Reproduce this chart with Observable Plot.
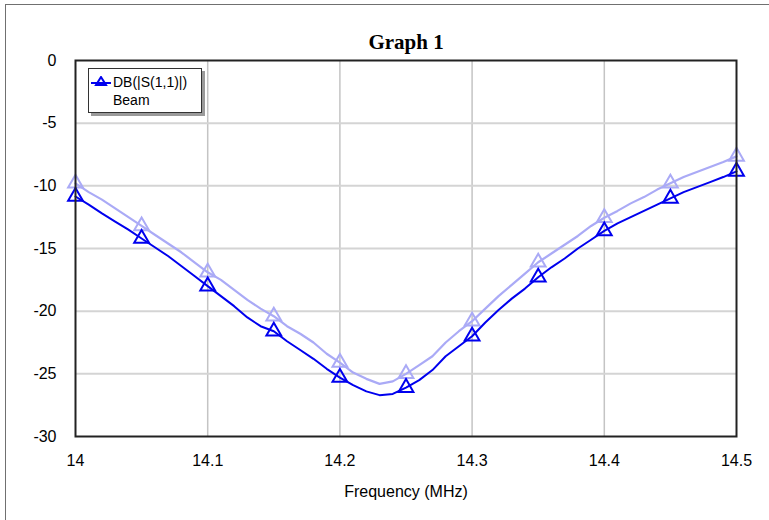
<!DOCTYPE html>
<html><head><meta charset="utf-8">
<script src="https://cdn.jsdelivr.net/npm/d3@7"></script>
<script src="https://cdn.jsdelivr.net/npm/@observablehq/plot@0.6"></script>
<style>
body{margin:0;width:769px;height:520px;overflow:hidden;background:#fff;position:relative;font-family:"Liberation Sans",Arial,sans-serif}
#outer{position:absolute;left:5px;top:4px;width:900px;height:700px;border:1px solid #707070}
#chart{position:absolute;left:0;top:0}
#legend{position:absolute;left:88px;top:68px;width:112px;height:43px;background:#fff;border:1px solid #333;box-shadow:3px 3px 0 #9a9a9a;font-size:14px;line-height:18px;color:#000}
#legend .row{position:absolute;left:24px;white-space:nowrap}
#legend svg{position:absolute;left:2px;top:7px}
</style></head><body>
<div id="outer"></div>
<div id="chart"></div>
<div id="legend"></div>
<script>
const title = "Graph 1";
const xLabel = "Frequency (MHz)";
const seriesName = "DB(|S(1,1)|)";
const docName = "Beam";
const xTicks = [14, 14.1, 14.2, 14.3, 14.4, 14.5];
const yTicks = [0, -5, -10, -15, -20, -25, -30];
const freq = [14.00,14.01,14.02,14.03,14.04,14.05,14.06,14.07,14.08,14.09,
  14.10,14.11,14.12,14.13,14.14,14.15,14.16,14.17,14.18,14.19,
  14.20,14.21,14.22,14.23,14.24,14.25,14.26,14.27,14.28,14.29,
  14.30,14.31,14.32,14.33,14.34,14.35,14.36,14.37,14.38,14.39,
  14.40,14.41,14.42,14.43,14.44,14.45,14.46,14.47,14.48,14.49,14.50];
const markerFreq = [14.00,14.05,14.10,14.15,14.20,14.25,14.30,14.35,14.40,14.45,14.50];
const s11 = [-10.85,-11.5,-12.2,-12.85,-13.5,-14.2,-14.9,-15.6,-16.4,-17.2,
  -18.0,-18.8,-19.6,-20.5,-21.2,-21.6,-22.4,-23.1,-23.8,-24.6,
  -25.3,-25.9,-26.4,-26.7,-26.6,-26.1,-25.5,-24.7,-23.6,-22.8,
  -22.0,-20.9,-19.9,-19.0,-18.2,-17.3,-16.5,-15.8,-15.0,-14.3,
  -13.6,-13.0,-12.5,-12.0,-11.5,-11.0,-10.5,-10.1,-9.7,-9.3,-8.85];
const s11Shadow = [-9.8,-10.5,-11.1,-11.8,-12.5,-13.2,-13.9,-14.6,-15.3,-16.1,
  -16.9,-17.5,-18.3,-19.1,-19.8,-20.4,-21.2,-21.8,-22.5,-23.4,
  -24.1,-24.9,-25.4,-25.8,-25.6,-25.0,-24.3,-23.6,-22.5,-21.6,
  -20.8,-19.8,-18.8,-17.9,-17.0,-16.1,-15.4,-14.7,-14.0,-13.2,
  -12.55,-12.0,-11.4,-10.9,-10.3,-9.8,-9.3,-8.9,-8.5,-8.1,-7.65];

const dark = "#0000ee", light = "#aaaaf6";
const rows = freq.map((f, i) => ({f, main: s11[i], shadow: s11Shadow[i]}));
const isMarker = d => markerFreq.some(m => Math.abs(m - d.f) < 1e-9);
const markers = rows.filter(isMarker);

const plot = Plot.plot({
  width: 769, height: 520,
  marginLeft: 75, marginRight: 33, marginTop: 60, marginBottom: 84,
  style: {fontFamily: '"Liberation Sans", Arial, sans-serif', fontSize: "16px", color: "#000", background: "transparent"},
  x: {domain: [14, 14.5], ticks: xTicks, tickFormat: d => String(d), tickSize: 0, tickPadding: 18, label: null},
  y: {domain: [-30, 0], ticks: yTicks, tickFormat: d => String(d), tickSize: 0, tickPadding: 19, label: null},
  marks: [
    Plot.ruleX(xTicks.slice(1, -1), {stroke: "#c4c4c4", strokeWidth: 1.5}),
    Plot.ruleY(yTicks.slice(1, -1), {stroke: "#d4d4d4", strokeWidth: 2}),
    Plot.line(rows, {x: "f", y: "shadow", stroke: light, strokeWidth: 2.2}),
    Plot.dot(markers, {x: "f", y: "shadow", symbol: "triangle", r: 5.5, stroke: light, strokeWidth: 2, fill: "none"}),
    Plot.line(rows, {x: "f", y: "main", stroke: dark, strokeWidth: 2}),
    Plot.dot(markers, {x: "f", y: "main", symbol: "triangle", r: 5.5, stroke: dark, strokeWidth: 2, fill: "none"}),
    Plot.frame({stroke: "#222", strokeWidth: 2}),
    Plot.text([title], {frameAnchor: "top", lineAnchor: "middle", dy: -18, fontFamily: '"Liberation Serif", "Times New Roman", serif', fontWeight: "bold", fontSize: 21}),
    Plot.text([xLabel], {frameAnchor: "bottom", lineAnchor: "middle", dy: 55, fontSize: 16})
  ]
});
document.getElementById("chart").appendChild(plot);

const lg = document.getElementById("legend");
lg.innerHTML = `<svg width="20" height="12"><line x1="0" x2="20" y1="7" y2="7" stroke="${dark}" stroke-width="2"/><path d="M10,1 L15,9 L5,9 Z" fill="none" stroke="${dark}" stroke-width="2"/></svg>`;
const r1 = document.createElement("div"); r1.className = "row"; r1.style.top = "4px"; r1.textContent = seriesName;
const r2 = document.createElement("div"); r2.className = "row"; r2.style.top = "22px"; r2.textContent = docName;
lg.appendChild(r1); lg.appendChild(r2);
</script>
</body></html>
